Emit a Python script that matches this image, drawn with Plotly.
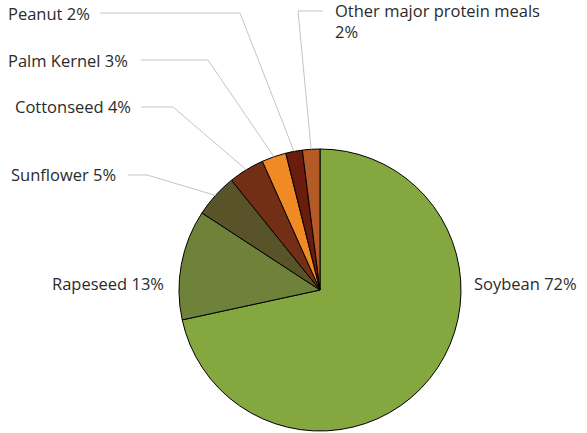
import math
import plotly.graph_objects as go

labels = ["Soybean", "Rapeseed", "Sunflower", "Cottonseed", "Palm Kernel", "Peanut", "Other major protein meals"]
values = [71.6, 12.6, 5.0, 4.1, 2.8, 1.9, 2.0]
colors = ["#84a83f", "#6e8239", "#585328", "#722f15", "#ef8a25", "#6a1d0d", "#b35a27"]

W, H = 587, 433
CX, CY, R = 320, 290, 141

fig = go.Figure(go.Pie(
    labels=labels, values=values, sort=False, direction="clockwise", rotation=0,
    marker=dict(colors=colors, line=dict(color="#000000", width=1)),
    textinfo="none", hoverinfo="label+percent",
    domain=dict(x=[(CX - R) / W, (CX + R) / W], y=[(H - CY - R) / H, (H - CY + R) / H]),
))

def px(x, y):
    return x / W, 1 - y / H

total = sum(values)
mids = []
cum = 0
for v in values:
    mids.append((cum + v / 2) / total * 2 * math.pi)
    cum += v

def edge(i):
    a = mids[i]
    return CX + R * math.sin(a), CY - R * math.cos(a)

leaders = [
    (6, (298, 11), (323, 11)),
    (5, (240, 13), (100, 13)),
    (4, (208, 60), (141, 60)),
    (3, (173, 107), (141, 107)),
    (2, (147, 175), (128, 175)),
]
shapes = []
for i, elbow, end in leaders:
    ex, ey = edge(i)
    pts = [(ex, ey), elbow, end]
    for (x0, y0), (x1, y1) in zip(pts[:-1], pts[1:]):
        a0 = px(x0, y0); a1 = px(x1, y1)
        shapes.append(dict(type="line", xref="paper", yref="paper", x0=a0[0], y0=a0[1], x1=a1[0], y1=a1[1],
                           line=dict(color="#c4c4c4", width=1)))

pct = [round(v / total * 100) for v in values]
font = dict(family="Open Sans, sans-serif", size=16.5, color="#2b2b2b")
ann = []
def add(text, x, y, xanchor):
    p = px(x, y)
    ann.append(dict(text=text, x=p[0], y=p[1], xref="paper", yref="paper", xanchor=xanchor, yanchor="middle",
                    showarrow=False, font=font, align="left"))

add(f"{labels[6]}<br>{pct[6]}%", 333, 21, "left")
add(f"{labels[5]} {pct[5]}%", 92, 13, "right")
add(f"{labels[4]} {pct[4]}%", 130, 60, "right")
add(f"{labels[3]} {pct[3]}%", 133, 107, "right")
add(f"{labels[2]} {pct[2]}%", 118, 175, "right")
add(f"{labels[1]} {pct[1]}%", 166, 283, "right")
add(f"{labels[0]} {pct[0]}%", 472, 283, "left")

fig.update_layout(width=W, height=H, margin=dict(l=0, r=0, t=0, b=0), showlegend=False,
                  paper_bgcolor="white", plot_bgcolor="white", shapes=shapes, annotations=ann)
fig.write_html("out.html", config={"displayModeBar": False},
               post_script="document.body.style.margin='0';")
